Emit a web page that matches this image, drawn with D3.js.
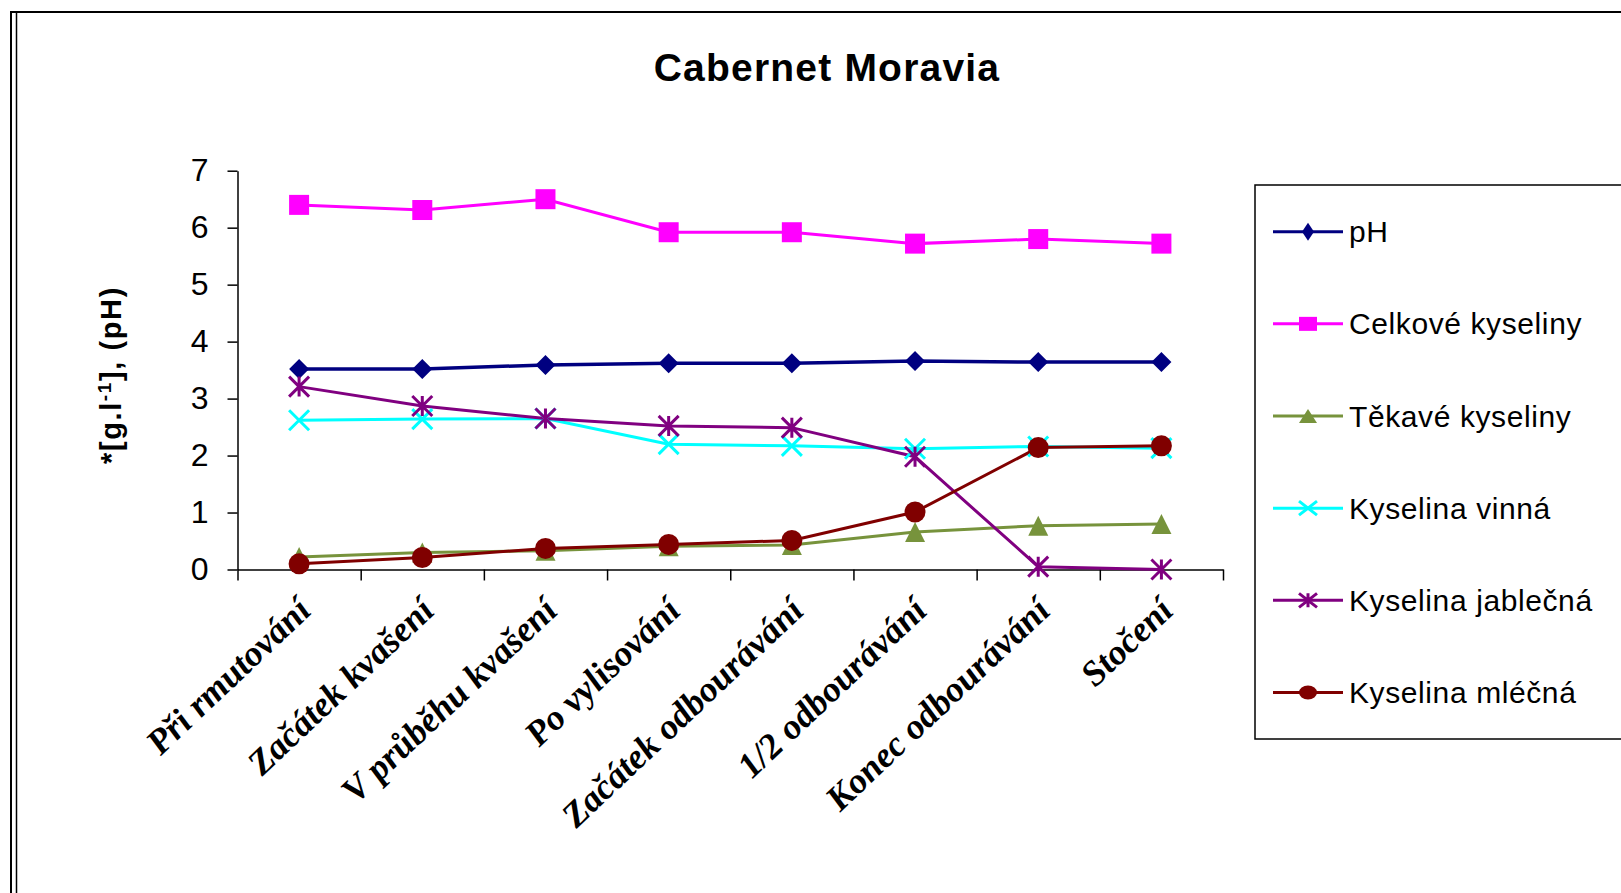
<!DOCTYPE html>
<html>
<head>
<meta charset="utf-8">
<script src="https://cdn.jsdelivr.net/npm/d3@7/dist/d3.min.js"></script>
<style>
  html, body { margin: 0; padding: 0; background: #fff; }
  svg { display: block; }
</style>
</head>
<body>
<svg id="chart" width="1621" height="893"></svg>
<script>
// Stages of wine making (x categories)
const categories = [
  "Při rmutování", "Začátek kvašení", "V průběhu kvašení", "Po vylisování",
  "Začátek odbourávání", "1/2 odbourávání", "Konec odbourávání", "Stočení"
];

// Measured values per stage
const pH         = [3.52, 3.52, 3.59, 3.62, 3.62, 3.66, 3.64, 3.64];
const celkove    = [6.40, 6.31, 6.50, 5.92, 5.92, 5.72, 5.80, 5.72];
const tekave     = [0.22, 0.30, 0.33, 0.41, 0.43, 0.66, 0.77, 0.80];
const vinna      = [2.62, 2.64, 2.65, 2.20, 2.17, 2.12, 2.16, 2.13];
const jablecna   = [3.21, 2.87, 2.65, 2.52, 2.49, 1.98, 0.05, 0.00];
const mlecna     = [0.10, 0.21, 0.37, 0.44, 0.51, 1.01, 2.14, 2.17];

const seriesNames = ["pH", "Celkové kyseliny", "Těkavé kyseliny",
                     "Kyselina vinná", "Kyselina jablečná", "Kyselina mléčná"];
const yTicks = [0, 1, 2, 3, 4, 5, 6, 7];

const series = [
  { name: seriesNames[0], values: pH,       color: "#000080", marker: "diamond" },
  { name: seriesNames[1], values: celkove,  color: "#FF00FF", marker: "square" },
  { name: seriesNames[2], values: tekave,   color: "#77933C", marker: "triangle" },
  { name: seriesNames[3], values: vinna,    color: "#00FFFF", marker: "cross" },
  { name: seriesNames[4], values: jablecna, color: "#800080", marker: "star" },
  { name: seriesNames[5], values: mlecna,   color: "#800000", marker: "circle" }
];

const svg = d3.select("#chart");

// outer frame
svg.append("line").attr("x1", 10).attr("x2", 1621).attr("y1", 12).attr("y2", 12)
  .attr("stroke", "#000").attr("stroke-width", 2);
svg.append("line").attr("x1", 11).attr("x2", 11).attr("y1", 11).attr("y2", 893)
  .attr("stroke", "#000").attr("stroke-width", 2);
svg.append("line").attr("x1", 16.5).attr("x2", 16.5).attr("y1", 12).attr("y2", 893)
  .attr("stroke", "#000").attr("stroke-width", 1.5);

// title
svg.append("text")
  .attr("x", 827).attr("y", 81)
  .attr("text-anchor", "middle")
  .style("font-family", "'Liberation Sans', Arial, sans-serif")
  .style("font-weight", "bold")
  .style("font-size", "39px")
  .style("letter-spacing", "1.2px")
  .text("Cabernet Moravia");

// scales
const plotLeft = 237.5, plotRight = 1223, plotTop = 170.7, plotBottom = 569.5;
const x = d3.scaleBand().domain(categories).range([plotLeft, plotRight]);
const xEdges = d3.scaleLinear().domain([0, categories.length]).range([plotLeft, plotRight]);
const y = d3.scaleLinear().domain([0, 7]).range([plotBottom, plotTop]);
const cx = c => x(c) + x.bandwidth() / 2;

// y axis
const yAxis = svg.append("g")
  .attr("transform", `translate(${plotLeft},0)`)
  .call(d3.axisLeft(y).tickValues(yTicks).tickSize(10).tickSizeOuter(0).tickPadding(19)
        .tickFormat(d3.format("d")));
yAxis.select(".domain").attr("stroke", "#000").attr("stroke-width", 1.5);
yAxis.selectAll(".tick line").attr("stroke", "#000").attr("stroke-width", 1.5);
yAxis.selectAll(".tick text")
  .style("font-family", "'Liberation Sans', Arial, sans-serif")
  .style("font-size", "32px")
  .attr("fill", "#000");

// x axis (ticks on category boundaries)
const xAxis = svg.append("g")
  .attr("transform", `translate(0,${plotBottom})`)
  .call(d3.axisBottom(xEdges).tickValues(d3.range(categories.length + 1))
        .tickSize(11).tickSizeOuter(0).tickFormat(""));
xAxis.select(".domain").attr("stroke", "#000").attr("stroke-width", 1.5);
xAxis.selectAll(".tick line").attr("stroke", "#000").attr("stroke-width", 1.5);

// rotated category labels
svg.append("g").selectAll("text")
  .data(categories)
  .join("text")
  .attr("transform", d => `translate(${cx(d) + 14},${plotBottom + 43}) scale(1.06,1) rotate(-45)`)
  .attr("text-anchor", "end")
  .style("font-family", "'Liberation Serif', 'Times New Roman', serif")
  .style("font-weight", "bold")
  .style("font-style", "italic")
  .style("font-size", "35px")
  .text(d => d);

// y axis title
const yt = svg.append("text")
  .attr("transform", `translate(121,375) rotate(-90)`)
  .attr("text-anchor", "middle")
  .style("font-family", "'Liberation Sans', Arial, sans-serif")
  .style("font-weight", "bold")
  .style("font-size", "29px")
  .style("letter-spacing", "1.6px");
yt.append("tspan").text("*[g.l");
yt.append("tspan").attr("baseline-shift", "super").style("font-size", "19px").text("-1");
yt.append("tspan").text("], (pH)");

// marker drawing
function drawMarker(g, type, color, w, h) {
  const hw = w / 2, hh = h / 2;
  if (type === "diamond") {
    g.append("path").attr("d", `M0,${-hh}L${hw},0L0,${hh}L${-hw},0Z`).attr("fill", color);
  } else if (type === "square") {
    g.append("rect").attr("x", -hw).attr("y", -hh).attr("width", w).attr("height", h).attr("fill", color);
  } else if (type === "triangle") {
    g.append("path").attr("d", `M0,${-hh}L${hw},${hh}L${-hw},${hh}Z`).attr("fill", color);
  } else if (type === "circle") {
    g.append("ellipse").attr("rx", hw).attr("ry", hh).attr("fill", color);
  } else if (type === "cross") {
    g.append("path").attr("d", `M${-hw},${-hh}L${hw},${hh}M${hw},${-hh}L${-hw},${hh}`)
      .attr("stroke", color).attr("stroke-width", 3).attr("fill", "none");
  } else if (type === "star") {
    g.append("path").attr("d", `M${-hw},${-hh}L${hw},${hh}M${hw},${-hh}L${-hw},${hh}M0,${-hh}L0,${hh}`)
      .attr("stroke", color).attr("stroke-width", 3).attr("fill", "none");
  }
}

// series lines and markers
const line = d3.line().x((d, i) => cx(categories[i])).y(d => y(d));
const plot = svg.append("g");
series.forEach(s => {
  plot.append("path")
    .datum(s.values)
    .attr("d", line)
    .attr("fill", "none")
    .attr("stroke", s.color)
    .attr("stroke-width", s.marker === "diamond" ? 3.5 : 3);
});
series.forEach(s => {
  s.values.forEach((v, i) => {
    const g = plot.append("g").attr("transform", `translate(${cx(categories[i])},${y(v)})`);
    drawMarker(g, s.marker, s.color, s.marker === "circle" ? 21 : 20, s.marker === "circle" ? 21 : 20);
  });
});

// legend
const legend = svg.append("g");
legend.append("rect")
  .attr("x", 1255).attr("y", 185).attr("width", 400).attr("height", 554)
  .attr("fill", "none").attr("stroke", "#000").attr("stroke-width", 1.5);
const legendY = d3.scaleLinear().domain([0, 5]).range([231.7, 692.5]);
series.forEach((s, i) => {
  const ly = legendY(i);
  legend.append("line").attr("x1", 1273).attr("x2", 1343).attr("y1", ly).attr("y2", ly)
    .attr("stroke", s.color).attr("stroke-width", 3);
  const g = legend.append("g").attr("transform", `translate(1308,${ly})`);
  if (s.marker === "diamond") drawMarker(g, s.marker, s.color, 12, 18);
  else drawMarker(g, s.marker, s.color, 18, 14);
  legend.append("text")
    .attr("x", 1349).attr("y", ly + 10.5)
    .style("font-family", "'Liberation Sans', Arial, sans-serif")
    .style("font-size", "30px")
    .style("letter-spacing", "0.6px")
    .text(s.name);
});
</script>
</body>
</html>
